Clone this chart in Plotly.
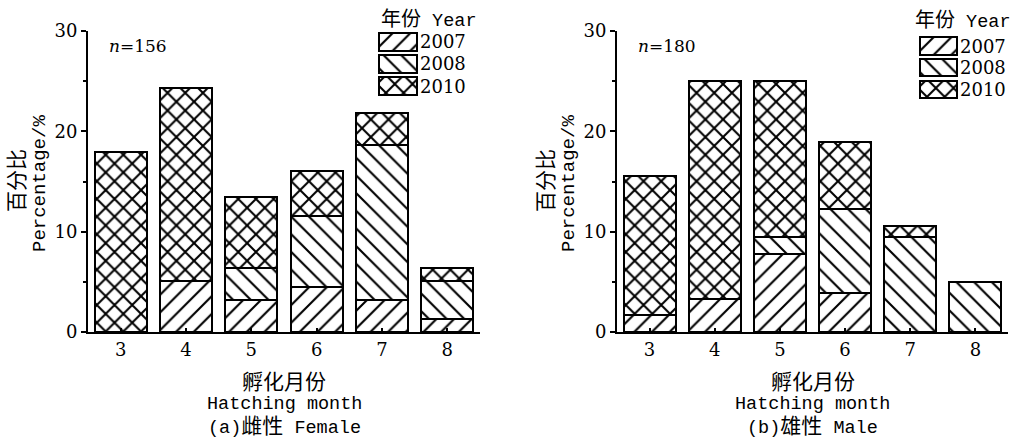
import plotly.graph_objects as go

# Hatching month categories
months = ["3", "4", "5", "6", "7", "8"]
years = ["2007", "2008", "2010"]

# Percentage of females by hatching month (n = 156)
female_2007 = [None, 5.13, 3.21, 4.49, 3.21, 1.28]
female_2008 = [None, None, 3.21, 7.05, 15.38, 3.85]
female_2010 = [17.95, 19.23, 7.05, 4.49, 3.21, 1.28]

# Percentage of males by hatching month (n = 180)
male_2007 = [1.67, 3.33, 7.78, 3.89, None, None]
male_2008 = [None, None, 1.67, 8.33, 9.44, 5.00]
male_2010 = [13.89, 21.67, 15.56, 6.67, 1.11, None]

y_ticks = [0, 10, 20, 30]

W, H = 1015, 447
SERIF = "DejaVu Serif, Noto Sans CJK SC"
MONO = "Liberation Mono, Noto Sans CJK SC"

HATCH = {
    "2007": dict(shape="/", size=12.5, solidity=0.17),
    "2008": dict(shape="\\", size=12.5, solidity=0.17),
    "2010": dict(shape="x", size=12.5, solidity=0.3),
}


def px_x(v):
    return v / W


def px_y(v):
    return 1 - v / H


def cjk(s, size=21):
    return f'<span style="font-size:{size}px">{s}</span>'


def marker(year):
    return dict(
        color="white",
        line=dict(color="black", width=2),
        pattern=dict(fgcolor="black", bgcolor="white", fillmode="replace", **HATCH[year]),
    )


fig = go.Figure()

panels = [
    ("x", "y", [female_2007, female_2008, female_2010]),
    ("x2", "y2", [male_2007, male_2008, male_2010]),
]
for xa, ya, series in panels:
    for year, vals in zip(years, series):
        fig.add_trace(go.Bar(
            x=months, y=vals, name=year, xaxis=xa, yaxis=ya,
            width=0.8, marker=marker(year), showlegend=False,
        ))

# Legend swatches drawn as short patterned bars on their own small axes
swatch = [1]
for xa, ya in [("x3", "y3"), ("x4", "y4")]:
    for year in years:
        fig.add_trace(go.Bar(
            x=swatch, y=[year], orientation="h", xaxis=xa, yaxis=ya,
            width=0.8, marker=marker(year), showlegend=False, hoverinfo="skip",
        ))

axis_common = dict(
    showline=True, linecolor="black", linewidth=2, mirror=False,
    showgrid=False, zeroline=False, automargin=False,
)
x_common = dict(
    axis_common, type="category", range=[-0.5, 5.5],
    ticks="inside", ticklen=4, tickwidth=1.5, tickcolor="black",
    tickfont=dict(family=SERIF, size=18, color="black"),
)
y_common = dict(
    axis_common, range=[0, 30], tickvals=y_ticks,
    ticks="outside", ticklen=5, tickwidth=1.5, tickcolor="black",
    minor=dict(dtick=5, ticks="outside", ticklen=3, tickwidth=1.5, tickcolor="black"),
    tickfont=dict(family=SERIF, size=18, color="black"),
)

plot_top, plot_bottom = 31, 332
left_x0, left_x1 = 88, 480
right_x0, right_x1 = 617, 1008

hidden = dict(visible=False, fixedrange=True, automargin=False)


def legend_x(x0, x1):
    pad = (x1 - x0) * 0.05
    return [px_x(x0 - pad), px_x(x1 + pad)]


fig.update_layout(
    width=W, height=H,
    margin=dict(l=0, r=0, t=0, b=0, autoexpand=False),
    paper_bgcolor="white", plot_bgcolor="white",
    barmode="stack",
    xaxis=dict(x_common, domain=[px_x(left_x0), px_x(left_x1)], anchor="y"),
    yaxis=dict(y_common, domain=[px_y(plot_bottom), px_y(plot_top)], anchor="x"),
    xaxis2=dict(x_common, domain=[px_x(right_x0), px_x(right_x1)], anchor="y2"),
    yaxis2=dict(y_common, domain=[px_y(plot_bottom), px_y(plot_top)], anchor="x2"),
    xaxis3=dict(hidden, range=[-0.05, 1.05], domain=legend_x(379, 417), anchor="y3"),
    yaxis3=dict(hidden, type="category", categoryorder="array", categoryarray=years,
                autorange="reversed", domain=[px_y(97), px_y(31)], anchor="x3"),
    xaxis4=dict(hidden, range=[-0.05, 1.05], domain=legend_x(920, 957), anchor="y4"),
    yaxis4=dict(hidden, type="category", categoryorder="array", categoryarray=years,
                autorange="reversed", domain=[px_y(100), px_y(35)], anchor="x4"),
)


def text(x, y, s, font, size, xanchor="center", angle=0):
    fig.add_annotation(
        x=px_x(x), y=px_y(y), xref="paper", yref="paper", text=s, showarrow=False,
        xanchor=xanchor, yanchor="middle", textangle=angle,
        font=dict(family=font, size=size, color="black"),
    )


for x0, x1, n_label, caption, leg_x, leg_y in [
    (left_x0, left_x1, "<i>n</i>=156", "(a)" + cjk("雌性") + " Female", 379, [20, 42, 64, 86]),
    (right_x0, right_x1, "<i>n</i>=180", "(b)" + cjk("雄性") + " Male", 913, [21, 46, 67.5, 89]),
]:
    cx = (x0 + x1) / 2
    text(x0 + 19, 46, n_label, SERIF, 17, xanchor="left")
    text(cx, 383, cjk("孵化月份"), MONO, 18)
    text(cx, 404, "Hatching month", MONO, 18.5)
    text(cx, 427, caption, MONO, 18.5)
    text(x0 - 70, 181, cjk("百分比"), MONO, 19, angle=-90)
    text(x0 - 48, 184, "Percentage/%", MONO, 19, angle=-90)
    text(leg_x, leg_y[0], cjk("年份", 20) + " Year", MONO, 18.5, xanchor="left")
    sw_right = 417 if x0 == left_x0 else 957
    for yr, yy in zip(years, leg_y[1:]):
        text(sw_right + 1, yy, yr, SERIF, 18, xanchor="left")

fig.write_html("out.html")
